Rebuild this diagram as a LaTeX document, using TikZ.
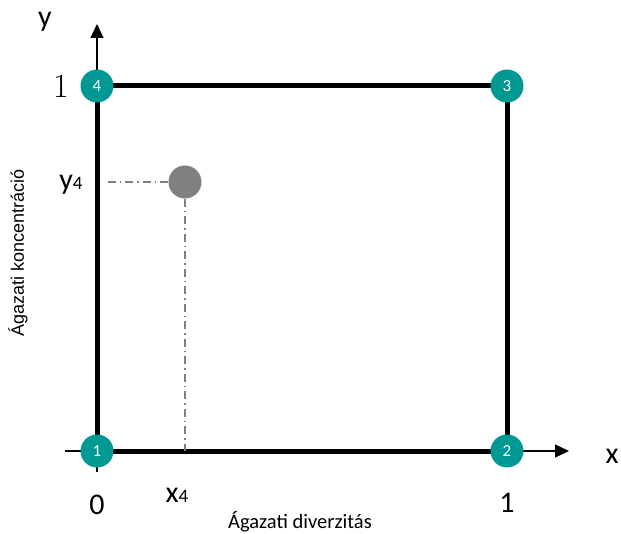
\documentclass[tikz,border=0pt]{standalone}
\usepackage{fontspec}
\usepackage{tikz}
\usetikzlibrary{arrows.meta,backgrounds}
\newfontfamily\calfont{Carlito}
\newfontfamily\arialfont{Liberation Sans}
\definecolor{cornerteal}{RGB}{0,152,146}
\definecolor{pointgray}{RGB}{128,128,128}

\begin{document}
\begin{tikzpicture}[
    x=1pt,
    y=-1pt,
    >={Triangle[length=14pt,width=13pt]},
    axis/.style={
        ->,
        draw=black,
        line width=1.3pt
    },
    frame/.style={
        draw=black,
        line width=5pt,
        shorten <=-8pt,
        shorten >=-8pt
    },
    guide/.style={
        draw=pointgray,
        line width=1.2pt,
        dash pattern=on 8pt off 4pt on 1.5pt off 4pt
    },
    corner/.style={
        circle,
        fill=cornerteal,
        minimum size=33pt,
        inner sep=0pt,
        font=\calfont\fontsize{17}{17}\selectfont,
        text=white
    },
    point/.style={
        circle,
        fill=pointgray,
        minimum size=33pt,
        inner sep=0pt
    },
    lbl/.style={
        font=\calfont\fontsize{30}{30}\selectfont,
        inner sep=0pt
    },
    title/.style={
        font=\calfont\fontsize{20.5}{20.5}\selectfont,
        inner sep=0pt
    }
]

\useasboundingbox (0,0) rectangle (621,534);

% =====================================================
% Axis ends
% =====================================================

\coordinate (Ybot) at (97,472);
\coordinate (Ytop) at (97,24);
\coordinate (Xleft) at (65,451);
\coordinate (Xright) at (569,451);

\coordinate (G4x) at (185,451);
\coordinate (G4y) at (104,182);

% =====================================================
% Corner nodes
% =====================================================

\node[corner] (C1) at (97,451) {1};
\node[corner] (C2) at (507,451) {2};
\node[corner] (C3) at (507,86) {3};
\node[corner] (C4) at (97,86) {4};

% =====================================================
% Axes and frame (behind the corners)
% =====================================================

\begin{scope}[on background layer]
\draw[axis] (Ybot) -- (Ytop);
\draw[axis] (Xleft) -- (Xright);

\draw[frame] (C1) -- (C2);
\draw[frame] (C2) -- (C3);
\draw[frame] (C3) -- (C4);
\draw[frame] (C4) -- (C1);
\end{scope}

% =====================================================
% Point 4 and guides
% =====================================================

\node[point] (P4) at (185,182) {};

\draw[guide] (P4) -- (G4y);
\draw[guide] (P4) -- (G4x);

% =====================================================
% Labels
% =====================================================

\node[lbl] (ylab) at (45,22) {y};
\node[lbl] (xlab) at (612,456) {x};

\node[font=\fontsize{34}{34}\selectfont, inner sep=0pt] (yone) at (61,86) {1};
\node[lbl] (yfour) at (71,185) {y{\fontsize{19}{19}\selectfont 4}};

\node[lbl] (xzero) at (97,505) {0};
\node[lbl] (xfour) at (177,495) {x{\fontsize{19}{19}\selectfont 4}};
\node[lbl] (xone) at (507,503) {1};

\node[title] (xtitle) at (300,522) {Ágazati diverzitás};
\node[inner sep=0pt, font=\arialfont\fontsize{18}{18}\selectfont, rotate=90] (ytitle) at (18,253) {Ágazati koncentráció};

\end{tikzpicture}
\end{document}
